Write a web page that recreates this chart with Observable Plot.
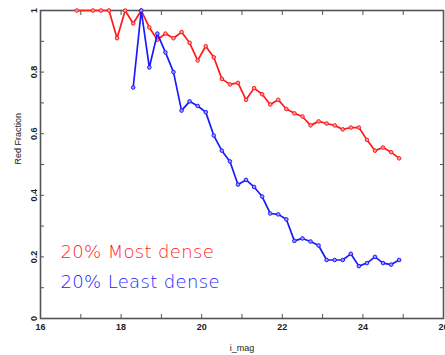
<!DOCTYPE html>
<html><head><meta charset="utf-8">
<script src="https://cdn.jsdelivr.net/npm/d3@7"></script>
<script src="https://cdn.jsdelivr.net/npm/@observablehq/plot@0.6"></script>
<style>body{margin:0;background:#fff} svg{display:block} .legend text{letter-spacing:0.35px}</style>
</head><body><div id="chart"></div>
<script>
const redMag = [16.9, 17.3, 17.5, 17.7, 17.9, 18.1, 18.3, 18.5, 18.7, 18.9, 19.1, 19.3, 19.5, 19.7, 19.9, 20.1, 20.3, 20.5, 20.7, 20.9, 21.1, 21.3, 21.5, 21.7, 21.9, 22.1, 22.3, 22.5, 22.7, 22.9, 23.1, 23.3, 23.5, 23.7, 23.9, 24.1, 24.3, 24.5, 24.7, 24.9];
const redFrac = [1, 1, 1, 1, 0.91, 1.0, 0.958, 1.0, 0.945, 0.905, 0.925, 0.91, 0.93, 0.895, 0.838, 0.884, 0.848, 0.778, 0.76, 0.765, 0.71, 0.748, 0.728, 0.695, 0.71, 0.68, 0.666, 0.656, 0.627, 0.64, 0.633, 0.627, 0.614, 0.62, 0.62, 0.58, 0.545, 0.555, 0.54, 0.52];
const blueMag = [18.3, 18.5, 18.7, 18.9, 19.1, 19.3, 19.5, 19.7, 19.9, 20.1, 20.3, 20.5, 20.7, 20.9, 21.1, 21.3, 21.5, 21.7, 21.9, 22.1, 22.3, 22.5, 22.7, 22.9, 23.1, 23.3, 23.5, 23.7, 23.9, 24.1, 24.3, 24.5, 24.7, 24.9];
const blueFrac = [0.75, 1.0, 0.815, 0.925, 0.864, 0.80, 0.675, 0.705, 0.69, 0.67, 0.594, 0.545, 0.51, 0.435, 0.45, 0.427, 0.396, 0.341, 0.338, 0.322, 0.252, 0.26, 0.25, 0.237, 0.19, 0.19, 0.19, 0.21, 0.17, 0.18, 0.20, 0.18, 0.175, 0.19];
const seriesNames = ["20% Most dense", "20% Least dense"];
const xMajor = [16, 18, 20, 22, 24, 26];
const xMinor = [17, 19, 21, 23, 25];
const yMajor = [0, 0.2, 0.4, 0.6, 0.8, 1];
const yMinor = [0.1, 0.3, 0.5, 0.7, 0.9];
const xTitle = "i_mag";
const yTitle = "Red Fraction";

const red = "#ff1a1a", blue = "#1a1aff", axisCol = "#555";
const redData = redMag.map((m, i) => ({m, f: redFrac[i]}));
const blueData = blueMag.map((m, i) => ({m, f: blueFrac[i]}));
const xTicks = xMajor.concat(xMinor), yTicks = yMajor.concat(yMinor);
const noText = () => "";

const chart = Plot.plot({
  width: 445, height: 355,
  marginLeft: 40, marginRight: 2, marginTop: 10, marginBottom: 37,
  style: {background: "#fff", fontFamily: "'Liberation Sans', Arial, sans-serif", overflow: "visible"},
  x: {domain: [16, 26]},
  y: {domain: [0, 1]},
  marks: [
    Plot.axisX(xTicks, {anchor: "bottom", tickSize: 4, dy: -4, tickFormat: noText, label: null, stroke: axisCol}),
    Plot.axisX(xTicks, {anchor: "top", tickSize: 4, dy: 4, tickFormat: noText, label: null, stroke: axisCol}),
    Plot.axisY(yTicks, {anchor: "left", tickSize: 4, dx: 4, tickFormat: noText, label: null, stroke: axisCol}),
    Plot.axisY(yTicks, {anchor: "right", tickSize: 4, dx: -4, tickFormat: noText, label: null, stroke: axisCol}),
    Plot.axisX(xMajor, {anchor: "bottom", tickSize: 0, tickPadding: 5, fontSize: 9, fontWeight: "bold", fill: "#222", label: null, tickFormat: d => String(d)}),
    Plot.axisY(yMajor, {anchor: "left", tickSize: 0, tickPadding: 4, tickRotate: -90, fontSize: 9, fontWeight: "bold", fill: "#222", label: null, tickFormat: d => String(d)}),
    Plot.frame({stroke: axisCol, strokeWidth: 1.6}),
    Plot.line(redData, {x: "m", y: "f", stroke: red, strokeWidth: 1.7}),
    Plot.dot(redData, {x: "m", y: "f", stroke: red, r: 1.8, strokeWidth: 1, fill: "#ff9a9a"}),
    Plot.line(blueData, {x: "m", y: "f", stroke: blue, strokeWidth: 1.7}),
    Plot.dot(blueData, {x: "m", y: "f", stroke: blue, r: 1.8, strokeWidth: 1, fill: "#9a9aff"}),
    Plot.text([seriesNames[0]], {text: d => d, frameAnchor: "bottom-left", textAnchor: "start", lineAnchor: "middle", dx: 20, dy: -66, fill: red, fontSize: 18, fontWeight: 300, fontFamily: "'DejaVu Sans', sans-serif", className: "legend"}),
    Plot.text([seriesNames[1]], {text: d => d, frameAnchor: "bottom-left", textAnchor: "start", lineAnchor: "middle", dx: 20, dy: -36, fill: blue, fontSize: 18, fontWeight: 300, fontFamily: "'DejaVu Sans', sans-serif", className: "legend"}),
    Plot.text([xTitle], {text: d => d, frameAnchor: "bottom", lineAnchor: "middle", dy: 30, fontSize: 9, fill: "#222"}),
    Plot.text([yTitle], {text: d => d, frameAnchor: "left", rotate: -90, lineAnchor: "middle", dx: -22, fontSize: 9, fill: "#222"})
  ]
});
document.getElementById("chart").appendChild(chart);
</script>
</body></html>
